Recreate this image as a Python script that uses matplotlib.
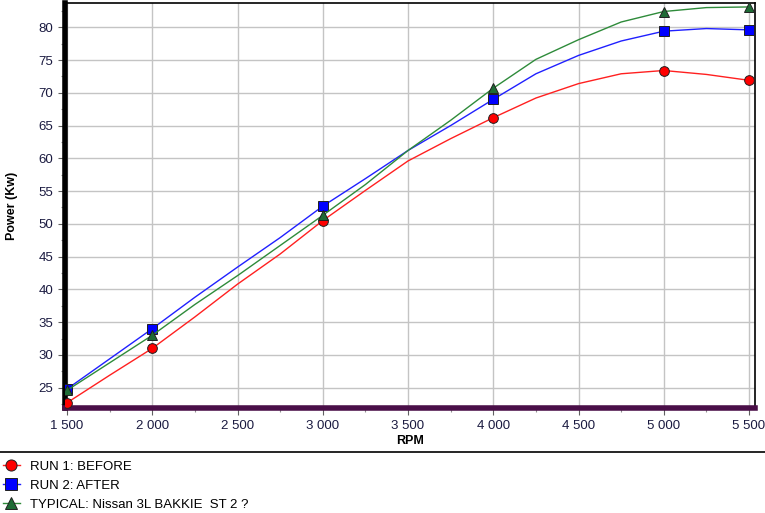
import matplotlib
matplotlib.use('Agg')
import matplotlib.pyplot as plt
from matplotlib.lines import Line2D
from matplotlib.ticker import MultipleLocator, FuncFormatter

plt.rcParams['font.family'] = ['Liberation Sans', 'DejaVu Sans']

rpm = [1500, 1750, 2000, 2250, 2500, 2750, 3000, 3250, 3500, 3750,
       4000, 4250, 4500, 4750, 5000, 5250, 5500]
run1_before = [22.7, 26.9, 31.0, 35.8, 40.8, 45.4, 50.5, 55.1, 59.6, 63.0,
               66.2, 69.2, 71.4, 72.9, 73.4, 72.8, 71.9]
run2_after = [24.8, 29.4, 34.0, 38.8, 43.4, 47.9, 52.7, 56.9, 61.2, 65.0,
              69.0, 72.9, 75.7, 77.9, 79.4, 79.8, 79.6]
typical = [24.6, 28.8, 33.0, 37.7, 42.1, 46.7, 51.3, 56.0, 61.2, 65.8,
           70.7, 75.1, 78.1, 80.8, 82.4, 83.0, 83.1]
marker_rpm = [1500, 2000, 3000, 4000, 5000, 5500]
labels = ['RUN 1: BEFORE', 'RUN 2: AFTER', 'TYPICAL: Nissan 3L BAKKIE  ST 2 ?']

W, H = 765, 513
fig = plt.figure(figsize=(W / 100, H / 100), dpi=100)
ax = fig.add_axes([65 / W, 1 - 408 / H, 690 / W, 405 / H])

marks = [rpm.index(r) for r in marker_rpm]
styles = [
    (run1_before, '#ff2020', 'o', '#ff0000', 7),
    (run2_after, '#2020ff', 's', '#0000ff', 7.5),
    (typical, '#2e8b3a', '^', '#1e6b35', 7.5),
]
handles = []
for (vals, lc, m, mc, ms), lab in zip(styles, labels):
    ax.plot(rpm, vals, color=lc, lw=1.0, marker=m, markevery=marks,
            markersize=ms, markerfacecolor=mc, markeredgecolor='#202020',
            markeredgewidth=0.7, zorder=3)
    handles.append(Line2D([], [], color=lc, lw=1.0, marker=m, markersize=ms + 1,
                          markerfacecolor=mc, markeredgecolor='#202020',
                          markeredgewidth=0.7))

ax.set_xlim(1488, 5535)
ax.set_ylim(21.9, 83.7)
ax.xaxis.set_major_locator(MultipleLocator(500))
ax.xaxis.set_minor_locator(MultipleLocator(250))
ax.yaxis.set_major_locator(MultipleLocator(5))
ax.yaxis.set_minor_locator(MultipleLocator(2.5))
ax.xaxis.set_major_formatter(FuncFormatter(lambda v, p: '{:,}'.format(int(v)).replace(',', ' ')))
ax.grid(True, which='major', color='#c4c4c4', lw=1.0)
ax.set_axisbelow(True)

ax.spines['left'].set_linewidth(4)
ax.spines['left'].set_color('black')
ax.spines['bottom'].set_linewidth(4)
ax.spines['bottom'].set_color('#4a0f48')
ax.spines['top'].set_linewidth(1.2)
ax.spines['right'].set_linewidth(1.2)

ax.tick_params(which='major', length=5, width=0.8, color='#606060',
               labelsize=9.5, labelcolor='#1a1a40')
ax.tick_params(which='minor', length=3, width=0.8, color='#909090')

ax.set_xlabel('RPM', fontsize=9, fontweight='bold', labelpad=2)
ax.set_ylabel('Power (Kw)', fontsize=9, fontweight='bold', labelpad=15)

fig.add_artist(Line2D([0, 1], [1 - 452 / H, 1 - 452 / H], color='black', lw=1.2))
fig.legend(handles, labels, loc='upper left', bbox_to_anchor=(0.0, 1 - 458 / H),
           frameon=False, fontsize=9.5, handlelength=1.3, handletextpad=0.8,
           labelspacing=0.5, borderaxespad=0, borderpad=0.2)

fig.savefig('out.png', dpi=100)
